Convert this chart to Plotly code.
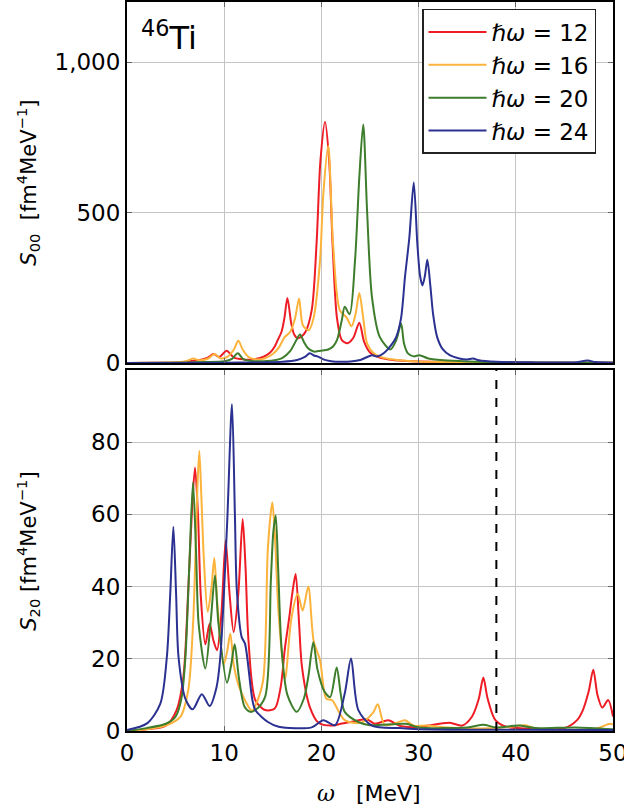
import plotly.graph_objects as go

# ---------------- data ----------------
OMEGA_TICKS = [0, 10, 20, 30, 40, 50]
S00_TICKS = [0, 500, 1000]
S00_TICK_LABELS = ["0", "500", "1,000"]
S20_TICKS = [0, 20, 40, 60, 80]
HW_LABELS = ["12", "16", "20", "24"]
DASH_OMEGA = 38.0

# top panel: S00 (omega [MeV], S)
S00_HW12 = [(0, 0), (3, 1), (5, 2), (6.5, 6), (7.5, 10), (8.3, 18), (8.9, 30), (9.5, 20),
            (10.25, 41), (11.0, 18), (12.0, 12), (13.0, 12), (14.0, 20), (14.7, 34), (15.2, 55),
            (15.5, 76), (15.9, 104), (16.2, 150), (16.5, 216), (16.9, 131), (17.2, 95), (17.6, 82),
            (18.3, 100), (19.0, 175), (19.5, 396), (19.9, 672), (20.37, 802), (20.8, 672),
            (21.15, 396), (21.6, 150), (22.1, 76), (22.7, 66), (23.3, 85), (23.9, 134), (24.4, 70),
            (25.0, 35), (26.0, 18), (27.0, 12), (28.0, 8), (30.0, 5), (35.0, 2), (40.0, 1), (50.0, 0.5)]
S00_HW16 = [(0, 0), (4, 1.5), (6.0, 5), (6.8, 15), (7.4, 9), (8.3, 14), (9.0, 30), (9.6, 16),
            (10.3, 20), (11.0, 45), (11.45, 74), (11.9, 45), (12.5, 20), (13.3, 12), (14.2, 16),
            (15.0, 30), (15.6, 50), (16.2, 85), (16.8, 104), (17.3, 150), (17.7, 214), (18.1, 125),
            (18.7, 109), (19.2, 150), (19.86, 341), (20.2, 562), (20.7, 722), (21.2, 396),
            (21.9, 175), (22.6, 151), (23.1, 122), (23.5, 160), (23.9, 233), (24.3, 150),
            (24.7, 65), (25.3, 35), (26.0, 21), (27.0, 13), (28.0, 9), (30.0, 5), (33.0, 3),
            (36.0, 2), (40.0, 1), (50.0, 0.5)]
S00_HW20 = [(0, 0), (5, 1), (8, 3), (10, 6), (10.8, 14), (11.4, 32), (12.0, 12), (13.0, 6),
            (14.0, 6), (15.0, 8), (16.0, 17), (16.8, 40), (17.4, 75), (17.8, 95), (18.2, 70),
            (18.6, 50), (19.2, 38), (19.9, 41), (20.7, 45), (21.2, 55), (21.6, 76), (22.1, 142),
            (22.4, 187), (22.9, 162), (23.46, 341), (23.9, 617), (24.3, 793), (24.7, 506),
            (25.2, 220), (26.0, 87), (27.1, 45), (27.7, 76), (28.2, 131), (28.5, 65), (28.9, 32),
            (29.5, 22), (30.1, 26), (31.0, 15), (33.0, 8), (36.0, 4), (40.0, 2), (50.0, 1)]
S00_HW24 = [(0, 0), (10, 1), (14, 2), (16, 4), (17.5, 10), (18.3, 20), (18.8, 32), (19.3, 24),
            (19.6, 22), (20.2, 12), (21.0, 6), (22.0, 4), (23.0, 5), (24.0, 10), (25.2, 26),
            (25.7, 22), (26.5, 35), (27.2, 60), (27.7, 87), (28.2, 150), (28.6, 286), (29.05, 418),
            (29.5, 600), (29.87, 396), (30.15, 290), (30.4, 258), (30.65, 290), (30.9, 343),
            (31.2, 260), (31.5, 160), (31.9, 87), (32.5, 45), (33.2, 26), (34.2, 15), (35.0, 12),
            (35.6, 15), (36.2, 9), (38.0, 4), (42.0, 2), (46.0, 2), (47.4, 8), (48.2, 3), (50.0, 1)]

# bottom panel: S20 (omega [MeV], S)
S20_HW12 = [(0, 0), (2, 0.5), (4, 1.5), (5.1, 5.8), (5.8, 15), (6.3, 39), (6.7, 62), (7.0, 73),
            (7.3, 60), (7.6, 37), (8.06, 24), (8.5, 29.7), (8.9, 25), (9.26, 22.4), (9.7, 32),
            (10.15, 52.8), (10.55, 38), (10.97, 27.4), (11.45, 38), (11.9, 58.7), (12.2, 45),
            (12.5, 25), (13.2, 8.6), (14.2, 5.8), (15.2, 6.2), (15.8, 12), (16.25, 23), (16.7, 31.6),
            (17.0, 38), (17.35, 43.5), (17.7, 30), (18.0, 17.8), (18.8, 6.7), (19.7, 2.3),
            (21.0, 1.5), (22.0, 2), (23.0, 2.5), (24.7, 3.2), (25.5, 2), (26.9, 3), (28.0, 1.5),
            (30.0, 1), (31.0, 1.5), (33.2, 2.3), (34.5, 1.5), (35.5, 4), (36.2, 9), (36.66, 14.8),
            (37.1, 9), (37.9, 3), (39.0, 1.2), (42.0, 0.6), (45.0, 0.8), (46.3, 3), (46.9, 5.8),
            (47.5, 11), (47.97, 17), (48.4, 10), (48.9, 6.5), (49.5, 8.6), (50.0, 4)]
S20_HW16 = [(0, 0), (2, 0.5), (4, 1.5), (5.5, 4), (6.3, 11.3), (6.8, 30), (7.03, 48), (7.25, 68),
            (7.44, 77.6), (7.65, 65), (7.9, 48), (8.3, 33), (8.7, 40), (8.98, 47.9), (9.3, 35),
            (9.95, 18.5), (10.3, 22), (10.63, 27), (11.0, 18), (11.66, 11.3), (12.86, 5.6),
            (13.2, 7), (14.0, 14), (14.5, 51), (14.95, 63.4), (15.2, 55), (15.6, 32.5),
            (16.26, 14.5), (16.9, 31), (17.56, 38), (18.07, 33.4), (18.65, 40), (19.2, 25),
            (19.86, 19.6), (20.5, 9), (21.1, 8.5), (22.4, 3), (24.1, 2.3), (25.3, 5), (25.8, 7.4),
            (26.5, 1.7), (27.5, 2), (28.6, 3), (29.5, 1.5), (30.8, 1.5), (33.0, 1), (38.0, 0.8),
            (40.5, 1.5), (41.0, 1.6), (42.0, 0.7), (48.0, 0.5), (49.7, 2), (50.0, 1.8)]
S20_HW20 = [(0, 0), (2, 0.8), (4, 2), (5, 4), (5.6, 9), (6.0, 20), (6.4, 45), (6.79, 68.9),
            (7.1, 50), (7.37, 29.7), (8.06, 17.3), (8.6, 30), (9.05, 43.1), (9.4, 30),
            (10.29, 13.4), (10.7, 18), (11.08, 24), (11.5, 15), (12.1, 6.7), (12.7, 5.3),
            (13.2, 5.8), (14.2, 9.4), (14.8, 41.7), (15.05, 55), (15.3, 59.7), (15.55, 45),
            (15.9, 23), (16.5, 10), (17.46, 5.3), (18.2, 9), (18.65, 15), (19.17, 24.6), (19.6, 17),
            (20.3, 11), (20.9, 9.4), (21.57, 17.6), (22.0, 10), (22.4, 5.3), (23.8, 2.5),
            (25.0, 1.6), (28.7, 2), (30.0, 1), (35.0, 1), (36.66, 1.7), (38.0, 1), (40.3, 1.5),
            (42.0, 0.8), (46.1, 1), (50.0, 0.5)]
S20_HW24 = [(0, 0.3), (2.06, 2.1), (3.43, 7.6), (4.1, 20.5), (4.45, 38), (4.77, 56.6), (5.05, 38),
            (5.3, 20.5), (6.0, 9), (6.76, 6), (7.7, 10.2), (8.5, 6.9), (9.2, 12), (9.6, 20.5),
            (10.3, 57.4), (10.8, 90.5), (11.1, 60), (11.3, 39), (11.8, 26), (12.14, 24.2),
            (12.9, 8.6), (13.2, 5.8), (14.5, 2.5), (15.6, 1.2), (19.0, 1), (20.2, 3), (21.4, 1.6),
            (22.4, 10.4), (23.05, 20.1), (23.8, 5.8), (25.2, 1.5), (28.0, 0.8), (30.0, 0.5),
            (50.0, 0.3)]

COLORS = ["#ee1c25", "#fbb33b", "#3d7d2c", "#2a3190"]

# ---------------- figure ----------------
fig = go.Figure()
top_series = [S00_HW12, S00_HW16, S00_HW20, S00_HW24]
bot_series = [S20_HW12, S20_HW16, S20_HW20, S20_HW24]

for lab, col, data in zip(HW_LABELS, COLORS, top_series):
    fig.add_trace(go.Scatter(
        x=[p[0] for p in data], y=[p[1] for p in data], mode="lines",
        line=dict(color=col, width=2, shape="spline", smoothing=0.8),
        name="ℏ<i>ω</i> = " + lab, xaxis="x2", yaxis="y2", showlegend=True))

for lab, col, data in zip(HW_LABELS, COLORS, bot_series):
    fig.add_trace(go.Scatter(
        x=[p[0] for p in data], y=[p[1] for p in data], mode="lines",
        line=dict(color=col, width=2, shape="spline", smoothing=0.8),
        name="ℏ<i>ω</i> = " + lab, xaxis="x", yaxis="y", showlegend=False))

axis_common = dict(showline=True, linecolor="black", linewidth=2, mirror="ticks",
                   ticks="inside", ticklen=5, tickcolor="#666", tickwidth=1,
                   showgrid=True, gridcolor="#c4c4c4", gridwidth=1, zeroline=False,
                   automargin=False, ticklabeloverflow="allow",
                   tickfont=dict(family="DejaVu Sans", size=23, color="black"))

H_BOT = 0.4952
fig.update_layout(
    width=624, height=811,
    margin=dict(l=127, r=11, t=2, b=80),
    paper_bgcolor="white", plot_bgcolor="white",
    font=dict(family="DejaVu Sans", color="black"),
    xaxis=dict(domain=[0, 1], range=[0, 50], tickvals=OMEGA_TICKS, anchor="y", **axis_common),
    yaxis=dict(domain=[0, H_BOT], range=[0, 100], tickvals=S20_TICKS, anchor="x", **axis_common),
    xaxis2=dict(domain=[0, 1], range=[0, 50], tickvals=OMEGA_TICKS, anchor="y2", matches="x",
                showticklabels=False, **axis_common),
    yaxis2=dict(domain=[1 - H_BOT, 1], range=[0, 1200], tickvals=S00_TICKS,
                ticktext=S00_TICK_LABELS, anchor="x2", **axis_common),
    legend=dict(x=0.607, y=0.9905, xanchor="left", yanchor="top",
                bordercolor="#222", borderwidth=1.5, bgcolor="white",
                font=dict(family="DejaVu Sans", size=23, color="black"),
                tracegroupgap=0, itemwidth=58),
    showlegend=True,
)

fig.add_shape(type="line", xref="x", yref="y domain", x0=DASH_OMEGA, x1=DASH_OMEGA, y0=0, y1=1,
              line=dict(color="black", width=2, dash="dash"))

fig.add_annotation(text="<sup>46</sup>Ti", xref="paper", yref="paper", x=0.025, y=0.985,
                   xanchor="left", yanchor="top", showarrow=False,
                   font=dict(family="DejaVu Sans", size=32, color="black"))
fig.add_annotation(text="<i>S</i><sub>00</sub>  [fm<sup>4</sup>MeV<sup>−1</sup>]",
                   xref="paper", yref="paper", x=-0.204, y=0.752, textangle=-90,
                   showarrow=False, xanchor="center", yanchor="middle",
                   font=dict(family="DejaVu Sans", size=21, color="black"))
fig.add_annotation(text="<i>S</i><sub>20</sub> [fm<sup>4</sup>MeV<sup>−1</sup>]",
                   xref="paper", yref="paper", x=-0.204, y=0.247, textangle=-90,
                   showarrow=False, xanchor="center", yanchor="middle",
                   font=dict(family="DejaVu Sans", size=21, color="black"))
fig.add_annotation(text='<span style="font-family:DejaVu Serif"><i>ω</i></span>   [MeV]',
                   xref="paper", yref="paper", x=0.498, y=-0.086,
                   showarrow=False, xanchor="center", yanchor="middle",
                   font=dict(family="DejaVu Sans", size=22, color="black"))

fig.write_html("out.html", config={"displayModeBar": False},
               post_script="document.body.style.margin='0px';")
